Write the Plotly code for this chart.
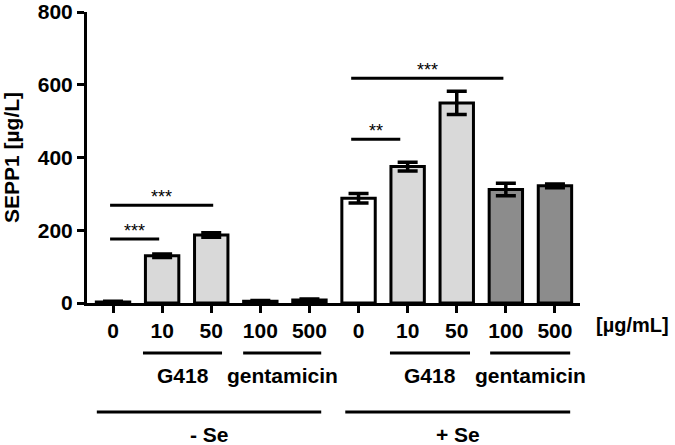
import plotly.graph_objects as go

# ---- data ----
tick_labels = ["0", "10", "50", "100", "500", "0", "10", "50", "100", "500"]
values = [3, 130, 187, 5, 8, 288, 375, 550, 312, 322]
errors = [2, 5, 6, 2, 3, 13, 12, 32, 17, 5]
bar_colors = ["#ffffff", "#d9d9d9", "#d9d9d9", "#8c8c8c", "#8c8c8c",
              "#ffffff", "#d9d9d9", "#d9d9d9", "#8c8c8c", "#8c8c8c"]
y_ticks = [0, 200, 400, 600, 800]

# significance brackets: (x_start, x_end, y_level, label)
sig_x0 = [-0.06, -0.06, 4.85, 4.85]
sig_x1 = [0.94, 2.04, 5.85, 7.95]
sig_y = [176, 269, 450, 618]
sig_text = ["***", "***", "**", "***"]

# group lines below axis
group_labels = ["G418", "gentamicin", "G418", "gentamicin"]
group_x0 = [0.61, 2.65, 5.64, 7.68]
group_x1 = [2.22, 4.24, 7.27, 9.31]
se_labels = ["- Se", "+ Se"]
se_x0 = [-0.33, 4.73]
se_x1 = [4.24, 9.31]

x = list(range(len(values)))
FONT = "Liberation Sans, Arial, Helvetica, sans-serif"

fig = go.Figure()
fig.add_trace(go.Bar(
    x=x, y=values,
    marker=dict(color=bar_colors, line=dict(color="black", width=3)),
    width=0.68,
    error_y=dict(type="data", array=errors, visible=True,
                 color="black", thickness=3.5, width=10),
    showlegend=False,
))

shapes = []
annotations = []
H = 291.0  # plot height in px


def py(px_off):
    return px_off / H

for a, b, yy, t in zip(sig_x0, sig_x1, sig_y, sig_text):
    shapes.append(dict(type="line", xref="x", yref="y", x0=a, x1=b, y0=yy, y1=yy,
                       line=dict(color="black", width=3)))
    annotations.append(dict(x=(a + b) / 2, y=yy, xref="x", yref="y", text=t,
                            showarrow=False, yshift=8,
                            font=dict(family=FONT, size=18, color="black")))

for a, b, t in zip(group_x0, group_x1, group_labels):
    shapes.append(dict(type="line", xref="x", yref="paper", x0=a, x1=b,
                       y0=-py(50), y1=-py(50), line=dict(color="black", width=3)))
    annotations.append(dict(x=(a + b) / 2, y=-py(72), xref="x", yref="paper", text=t,
                            showarrow=False, yanchor="middle",
                            font=dict(family=FONT, size=21, color="black", weight="bold")))

for a, b, t in zip(se_x0, se_x1, se_labels):
    shapes.append(dict(type="line", xref="x", yref="paper", x0=a, x1=b,
                       y0=-py(109), y1=-py(109), line=dict(color="black", width=3)))
    annotations.append(dict(x=(a + b) / 2, y=-py(131), xref="x", yref="paper", text=t,
                            showarrow=False, yanchor="middle",
                            font=dict(family=FONT, size=21, color="black", weight="bold")))

annotations.append(dict(x=1.0, y=-py(22), xref="paper", yref="paper", text="[µg/mL]",
                        showarrow=False, xanchor="left", xshift=14, yanchor="middle",
                        font=dict(family=FONT, size=20, color="black", weight="bold")))

fig.update_layout(
    width=675, height=445,
    margin=dict(l=87, r=95, t=12, b=142),
    paper_bgcolor="white", plot_bgcolor="white",
    shapes=shapes, annotations=annotations,
    xaxis=dict(range=[-0.53, 9.51], tickvals=x, ticktext=tick_labels,
               automargin=False,
               showline=True, linecolor="black", linewidth=3,
               ticks="outside", ticklen=7, tickwidth=2.5, tickcolor="black",
               showgrid=False, zeroline=False,
               tickfont=dict(family=FONT, size=21, color="black", weight="bold")),
    yaxis=dict(range=[0, 800], tickvals=y_ticks, automargin=False,
               showline=True, linecolor="black", linewidth=3,
               ticks="outside", ticklen=7, tickwidth=2.5, tickcolor="black",
               showgrid=False, zeroline=False,
               tickfont=dict(family=FONT, size=21, color="black", weight="bold")),
)
fig.update_yaxes(title=dict(text="SEPP1 [µg/L]", standoff=20,
                            font=dict(family=FONT, size=21, color="black", weight="bold")))

# remove the browser's default 8px body margin so the figure fills the window
fig.write_html("out.html", config={"displayModeBar": False},
               post_script="document.body.style.margin='0';document.body.style.overflow='hidden';")
